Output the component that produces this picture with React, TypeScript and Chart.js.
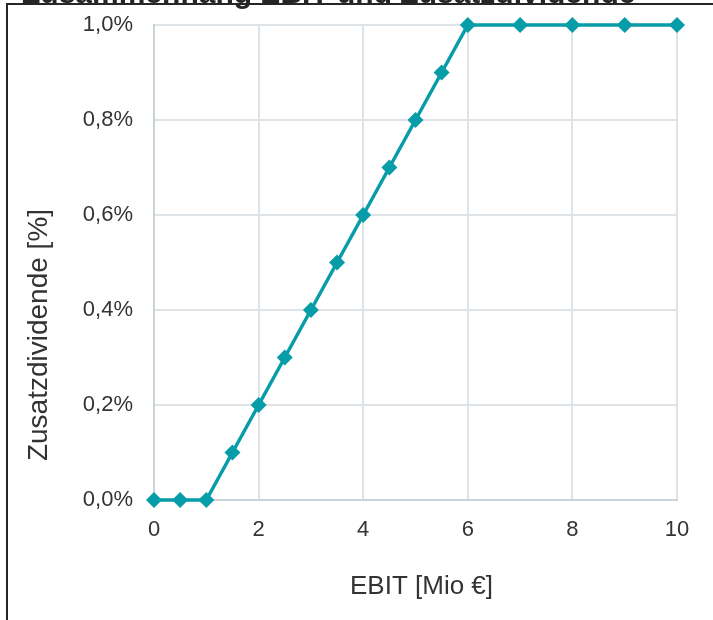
import React, { useEffect, useRef } from "react";
import { Chart, registerables } from "chart.js";

Chart.register(...registerables);

const titleText = "Zusammenhang EBIT und Zusatzdividende";
const xAxisTitle = "EBIT [Mio €]";
const yAxisTitle = "Zusatzdividende [%]";
const ebit = [0, 0.5, 1, 1.5, 2, 2.5, 3, 3.5, 4, 4.5, 5, 5.5, 6, 7, 8, 9, 10];
const dividende = [0, 0, 0, 0.1, 0.2, 0.3, 0.4, 0.5, 0.6, 0.7, 0.8, 0.9, 1.0, 1.0, 1.0, 1.0, 1.0];

const FONT = "'Liberation Sans', Arial, sans-serif";
const TEAL = "#069ca8";

export default function App() {
  const ref = useRef<HTMLCanvasElement | null>(null);
  useEffect(() => {
    if (!ref.current) return;
    const textPlugin = {
      id: "texts",
      afterDraw(chart: any) {
        const { ctx, chartArea } = chart;
        ctx.save();
        ctx.fillStyle = "#262626";
        ctx.font = `bold 30px ${FONT}`;
        ctx.textAlign = "left";
        ctx.textBaseline = "alphabetic";
        ctx.fillText(titleText, 22, 3);
        ctx.fillStyle = "#333333";
        ctx.font = `26px ${FONT}`;
        ctx.textAlign = "center";
        ctx.textBaseline = "middle";
        ctx.fillText(xAxisTitle, (chartArea.left + chartArea.right) / 2 + 6, chartArea.bottom + 87);
        ctx.translate(39, chartArea.bottom - 165);
        ctx.rotate(-Math.PI / 2);
        ctx.font = `28px ${FONT}`;
        ctx.fillText(yAxisTitle, 0, 0);
        ctx.restore();
      },
    };
    const chart = new Chart(ref.current, {
      type: "line",
      data: {
        datasets: [
          {
            data: ebit.map((x, i) => ({ x, y: dividende[i] })),
            borderColor: TEAL,
            backgroundColor: TEAL,
            borderWidth: 3.5,
            pointStyle: "rectRot",
            pointRadius: 8,
            pointHoverRadius: 8,
            pointBorderWidth: 0,
            tension: 0,
            clip: false as any,
          },
        ],
      },
      options: {
        animation: false,
        responsive: true,
        maintainAspectRatio: false,
        layout: { autoPadding: false, padding: { left: 0, right: 36, top: 25, bottom: 0 } },
        plugins: { legend: { display: false }, tooltip: { enabled: false }, title: { display: false } },
        scales: {
          x: {
            type: "linear",
            min: 0,
            max: 10,
            afterFit: (s: any) => { s.height = 120; s.paddingLeft = 0; s.paddingRight = 0; },
            ticks: { stepSize: 2, padding: 17, color: "#333333", font: { family: FONT, size: 22 } },
            grid: { color: "#dde3e6", lineWidth: 2, drawTicks: false },
            border: { color: "#c8d4d8", width: 2 },
          },
          y: {
            min: 0,
            max: 1,
            afterFit: (s: any) => { s.width = 154; s.paddingTop = 0; s.paddingBottom = 0; },
            ticks: {
              stepSize: 0.2,
              padding: 21,
              color: "#333333",
              font: { family: FONT, size: 22 },
              callback: (v: any) => Number(v).toFixed(1).replace(".", ",") + "%",
            },
            grid: { color: "#dde3e6", lineWidth: 2, drawTicks: false },
            border: { color: "#c8d4d8", width: 2 },
          },
        },
      },
      plugins: [textPlugin],
    });
    return () => chart.destroy();
  }, []);
  return (
    <div style={{ position: "absolute", left: 0, top: 0, width: 713, height: 620, overflow: "hidden", background: "#fff" }}>
      <div
        style={{
          position: "absolute",
          left: 6,
          top: 3,
          width: 800,
          height: 700,
          borderTop: "2px solid #262626",
          borderLeft: "2px solid #262626",
        }}
      />
      <div style={{ position: "absolute", left: 0, top: 0, width: 713, height: 620 }}>
        <canvas ref={ref} />
      </div>
    </div>
  );
}
